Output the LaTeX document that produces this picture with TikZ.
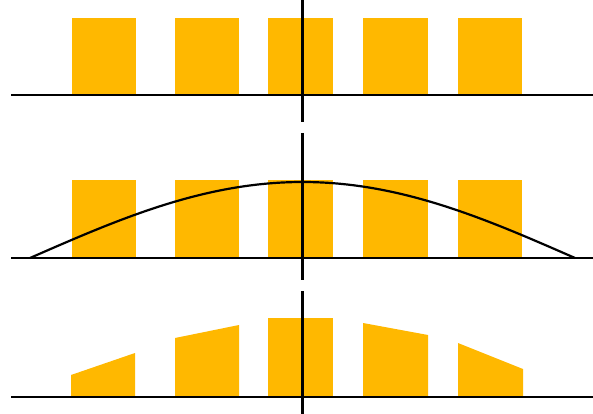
\documentclass[tikz,border=0pt]{standalone}
\definecolor{barorange}{RGB}{255,184,0}
\begin{document}
\begin{tikzpicture}[x=1pt,y=-1pt,
  bar/.style={fill=barorange,draw=none},
  axisline/.style={black,line width=2.3pt},
  curveline/.style={black,line width=2.2pt}]
\useasboundingbox[fill=white] (0,0) rectangle (593,414);
% top row
\foreach \a/\b in {72/136,175/239,268/333,363/428,458/522}
  \fill[bar] (\a,18) rectangle (\b,95);
% middle row
\foreach \a/\b in {72/136,175/239,268/333,363/428,458/522}
  \fill[bar] (\a,180) rectangle (\b,258);
% bottom row
\fill[bar] (71,397) -- (71,375) -- (135,353) -- (135,397) -- cycle;
\fill[bar] (175,397) -- (175,338) -- (239,325) -- (239,397) -- cycle;
\fill[bar] (268,397) -- (268,318) -- (333,318) -- (333,397) -- cycle;
\fill[bar] (363,397) -- (363,323) -- (428,335) -- (428,397) -- cycle;
\fill[bar] (458,397) -- (458,343) -- (523,369) -- (523,397) -- cycle;
% axes
\coordinate (a1l) at (11,95);  \coordinate (a1r) at (593,95);
\coordinate (a2l) at (11,258); \coordinate (a2r) at (593,258);
\coordinate (a3l) at (11,397); \coordinate (a3r) at (593,397);
\draw[axisline] (a1l) -- (a1r);
\draw[axisline] (a2l) -- (a2r);
\draw[axisline] (a3l) -- (a3r);
% vertical center lines
\coordinate (v1t) at (302.5,0);   \coordinate (v1b) at (302.5,122);
\coordinate (v2t) at (302.5,133); \coordinate (v2b) at (302.5,280);
\coordinate (v3t) at (302.5,291); \coordinate (v3b) at (302.5,414);
\draw[axisline] (v1t) -- (v1b);
\draw[axisline] (v2t) -- (v2b);
\draw[axisline] (v3t) -- (v3b);
% curve
\draw[curveline,line cap=round] plot[domain=30:575,samples=80,smooth] (\x,{258-76*cos(90*((\x-302.5)/272.5))});
\end{tikzpicture}
\end{document}
